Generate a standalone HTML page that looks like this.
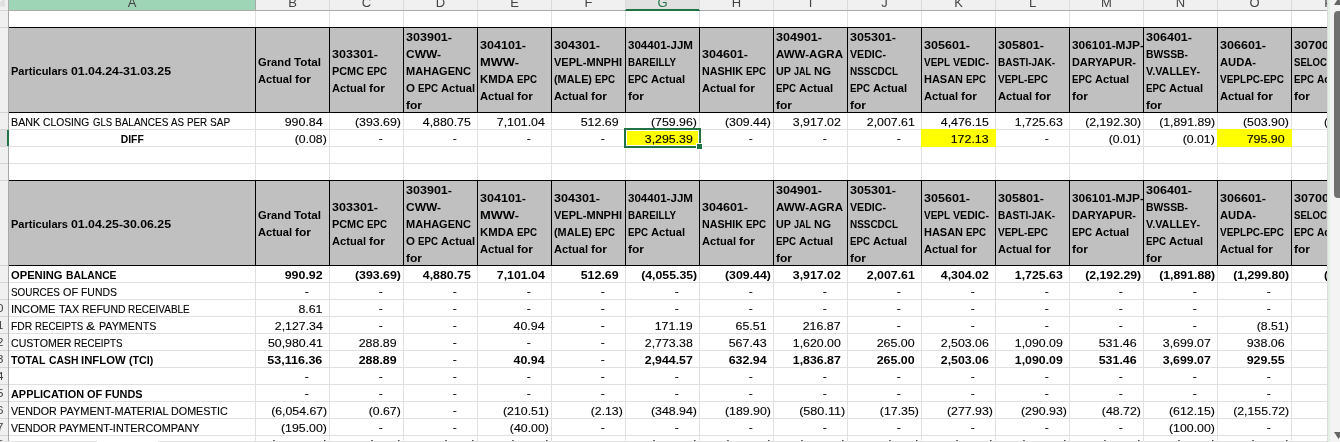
<!DOCTYPE html>
<html lang="en">
<head>
<meta charset="utf-8">
<title>Cash flow sheet</title>
<style>
html,body{margin:0;padding:0}
body{width:1340px;height:442px;overflow:hidden;background:#fff;position:relative;font-family:"Liberation Sans",sans-serif}
.sheet{position:absolute;left:0;top:0;width:1327px;height:442px;overflow:hidden;background:#fff}
.t,.ch,.rh{position:absolute;white-space:nowrap;line-height:17px;font-size:11px;color:#000;height:17px}
.t{-webkit-text-stroke:0.12px #000}
.b{font-weight:bold;-webkit-text-stroke:0}
.w{position:absolute;top:0;white-space:nowrap;transform-origin:left center}
.ch{font-size:13px;color:#444}
.ch.sel{color:#217346}
.rh{font-size:11.5px;color:#3a3a3a}
.g{position:absolute;background:#e0e0e0}
.k{position:absolute;background:#000}
.hd{position:absolute;background:#c0c0c0}
.y{position:absolute;background:#ff0}
</style>
</head>
<body>
<div class="sheet">
<div style="position:absolute;left:0;top:0;width:1327px;height:10px;background:#f0f0f0"></div>
<div style="position:absolute;left:0;top:10px;width:1327px;height:1px;background:#ababab"></div>
<div style="position:absolute;left:9px;top:0;width:246px;height:10px;background:#9fd5b7"></div>
<div style="position:absolute;left:9px;top:10px;width:246px;height:1px;background:#ababab"></div>
<div style="position:absolute;left:626px;top:0;width:73px;height:9px;background:#e1e1e1"></div>
<div style="position:absolute;left:625px;top:9px;width:75px;height:2px;background:#217346"></div>
<div style="position:absolute;left:255px;top:0;width:1px;height:10px;background:#a4a9a6"></div>
<div style="position:absolute;left:329px;top:0;width:1px;height:10px;background:#dadada"></div>
<div style="position:absolute;left:403px;top:0;width:1px;height:10px;background:#dadada"></div>
<div style="position:absolute;left:477px;top:0;width:1px;height:10px;background:#dadada"></div>
<div style="position:absolute;left:551px;top:0;width:1px;height:10px;background:#dadada"></div>
<div style="position:absolute;left:625px;top:0;width:1px;height:10px;background:#dadada"></div>
<div style="position:absolute;left:699px;top:0;width:1px;height:10px;background:#dadada"></div>
<div style="position:absolute;left:773px;top:0;width:1px;height:10px;background:#dadada"></div>
<div style="position:absolute;left:847px;top:0;width:1px;height:10px;background:#dadada"></div>
<div style="position:absolute;left:921px;top:0;width:1px;height:10px;background:#dadada"></div>
<div style="position:absolute;left:995px;top:0;width:1px;height:10px;background:#dadada"></div>
<div style="position:absolute;left:1069px;top:0;width:1px;height:10px;background:#dadada"></div>
<div style="position:absolute;left:1143px;top:0;width:1px;height:10px;background:#dadada"></div>
<div style="position:absolute;left:1217px;top:0;width:1px;height:10px;background:#dadada"></div>
<div style="position:absolute;left:1291px;top:0;width:1px;height:10px;background:#dadada"></div>
<div style="position:absolute;left:1365px;top:0;width:1px;height:10px;background:#dadada"></div>
<div style="position:absolute;left:0;top:0;width:8px;height:442px;background:#f0f0f0"></div>
<div style="position:absolute;left:0;top:0;width:5px;height:6.5px;background:#dfdfdf;clip-path:polygon(0 2.6px,2.7px 0,100% 0,100% 100%,0 100%)"></div>
<div style="position:absolute;left:0;top:130px;width:7px;height:16px;background:#dedede"></div>
<div style="position:absolute;left:8px;top:0;width:1px;height:442px;background:#a8a8a8"></div>
<div style="position:absolute;left:7px;top:130px;width:2px;height:16px;background:#217346"></div>
<div class="g" style="left:9px;top:129px;width:1318px;height:1px"></div>
<div class="g" style="left:9px;top:146px;width:1318px;height:1px"></div>
<div class="g" style="left:9px;top:163px;width:1318px;height:1px"></div>
<div class="g" style="left:9px;top:282px;width:1318px;height:1px"></div>
<div class="g" style="left:9px;top:299px;width:1318px;height:1px"></div>
<div class="g" style="left:9px;top:316px;width:1318px;height:1px"></div>
<div class="g" style="left:9px;top:333px;width:1318px;height:1px"></div>
<div class="g" style="left:9px;top:350px;width:1318px;height:1px"></div>
<div class="g" style="left:9px;top:367px;width:1318px;height:1px"></div>
<div class="g" style="left:9px;top:384px;width:1318px;height:1px"></div>
<div class="g" style="left:9px;top:401px;width:1318px;height:1px"></div>
<div class="g" style="left:9px;top:418px;width:1318px;height:1px"></div>
<div class="g" style="left:9px;top:435px;width:1318px;height:1px"></div>
<div style="position:absolute;left:0;top:10px;width:8px;height:1px;background:#d4d4d4"></div>
<div style="position:absolute;left:0;top:27px;width:8px;height:1px;background:#d4d4d4"></div>
<div style="position:absolute;left:0;top:112px;width:8px;height:1px;background:#d4d4d4"></div>
<div style="position:absolute;left:0;top:129px;width:8px;height:1px;background:#d4d4d4"></div>
<div style="position:absolute;left:0;top:146px;width:8px;height:1px;background:#d4d4d4"></div>
<div style="position:absolute;left:0;top:163px;width:8px;height:1px;background:#d4d4d4"></div>
<div style="position:absolute;left:0;top:180px;width:8px;height:1px;background:#d4d4d4"></div>
<div style="position:absolute;left:0;top:265px;width:8px;height:1px;background:#d4d4d4"></div>
<div style="position:absolute;left:0;top:282px;width:8px;height:1px;background:#d4d4d4"></div>
<div style="position:absolute;left:0;top:299px;width:8px;height:1px;background:#d4d4d4"></div>
<div style="position:absolute;left:0;top:316px;width:8px;height:1px;background:#d4d4d4"></div>
<div style="position:absolute;left:0;top:333px;width:8px;height:1px;background:#d4d4d4"></div>
<div style="position:absolute;left:0;top:350px;width:8px;height:1px;background:#d4d4d4"></div>
<div style="position:absolute;left:0;top:367px;width:8px;height:1px;background:#d4d4d4"></div>
<div style="position:absolute;left:0;top:384px;width:8px;height:1px;background:#d4d4d4"></div>
<div style="position:absolute;left:0;top:401px;width:8px;height:1px;background:#d4d4d4"></div>
<div style="position:absolute;left:0;top:418px;width:8px;height:1px;background:#d4d4d4"></div>
<div style="position:absolute;left:0;top:435px;width:8px;height:1px;background:#d4d4d4"></div>
<div class="g" style="left:255px;top:11px;width:1px;height:431px"></div>
<div class="g" style="left:329px;top:11px;width:1px;height:431px"></div>
<div class="g" style="left:403px;top:11px;width:1px;height:431px"></div>
<div class="g" style="left:477px;top:11px;width:1px;height:431px"></div>
<div class="g" style="left:551px;top:11px;width:1px;height:431px"></div>
<div class="g" style="left:625px;top:11px;width:1px;height:431px"></div>
<div class="g" style="left:699px;top:11px;width:1px;height:431px"></div>
<div class="g" style="left:773px;top:11px;width:1px;height:431px"></div>
<div class="g" style="left:847px;top:11px;width:1px;height:431px"></div>
<div class="g" style="left:921px;top:11px;width:1px;height:431px"></div>
<div class="g" style="left:995px;top:11px;width:1px;height:431px"></div>
<div class="g" style="left:1069px;top:11px;width:1px;height:431px"></div>
<div class="g" style="left:1143px;top:11px;width:1px;height:431px"></div>
<div class="g" style="left:1217px;top:11px;width:1px;height:431px"></div>
<div class="g" style="left:1291px;top:11px;width:1px;height:431px"></div>
<div class="hd" style="left:9px;top:27px;width:1318px;height:86px"></div>
<div class="k" style="left:9px;top:27px;width:1318px;height:1px"></div>
<div class="k" style="left:9px;top:112px;width:1318px;height:1px"></div>
<div class="k" style="left:255px;top:27px;width:1px;height:86px"></div>
<div class="k" style="left:329px;top:27px;width:1px;height:86px"></div>
<div class="k" style="left:403px;top:27px;width:1px;height:86px"></div>
<div class="k" style="left:477px;top:27px;width:1px;height:86px"></div>
<div class="k" style="left:551px;top:27px;width:1px;height:86px"></div>
<div class="k" style="left:625px;top:27px;width:1px;height:86px"></div>
<div class="k" style="left:699px;top:27px;width:1px;height:86px"></div>
<div class="k" style="left:773px;top:27px;width:1px;height:86px"></div>
<div class="k" style="left:847px;top:27px;width:1px;height:86px"></div>
<div class="k" style="left:921px;top:27px;width:1px;height:86px"></div>
<div class="k" style="left:995px;top:27px;width:1px;height:86px"></div>
<div class="k" style="left:1069px;top:27px;width:1px;height:86px"></div>
<div class="k" style="left:1143px;top:27px;width:1px;height:86px"></div>
<div class="k" style="left:1217px;top:27px;width:1px;height:86px"></div>
<div class="k" style="left:1291px;top:27px;width:1px;height:86px"></div>
<div class="hd" style="left:9px;top:180px;width:1318px;height:86px"></div>
<div class="k" style="left:9px;top:180px;width:1318px;height:1px"></div>
<div class="k" style="left:9px;top:265px;width:1318px;height:1px"></div>
<div class="k" style="left:255px;top:180px;width:1px;height:86px"></div>
<div class="k" style="left:329px;top:180px;width:1px;height:86px"></div>
<div class="k" style="left:403px;top:180px;width:1px;height:86px"></div>
<div class="k" style="left:477px;top:180px;width:1px;height:86px"></div>
<div class="k" style="left:551px;top:180px;width:1px;height:86px"></div>
<div class="k" style="left:625px;top:180px;width:1px;height:86px"></div>
<div class="k" style="left:699px;top:180px;width:1px;height:86px"></div>
<div class="k" style="left:773px;top:180px;width:1px;height:86px"></div>
<div class="k" style="left:847px;top:180px;width:1px;height:86px"></div>
<div class="k" style="left:921px;top:180px;width:1px;height:86px"></div>
<div class="k" style="left:995px;top:180px;width:1px;height:86px"></div>
<div class="k" style="left:1069px;top:180px;width:1px;height:86px"></div>
<div class="k" style="left:1143px;top:180px;width:1px;height:86px"></div>
<div class="k" style="left:1217px;top:180px;width:1px;height:86px"></div>
<div class="k" style="left:1291px;top:180px;width:1px;height:86px"></div>
<div class="y" style="left:627px;top:131px;width:71px;height:14px"></div>
<div class="y" style="left:921px;top:129px;width:75px;height:18px"></div>
<div class="y" style="left:1217px;top:129px;width:75px;height:18px"></div>
<div style="position:absolute;left:624px;top:128px;width:73px;height:16px;border:2px solid #217346"></div>
<div style="position:absolute;left:696px;top:143px;width:5px;height:5px;background:#217346;border:1px solid #fff"></div>
<span class="t b" style="left:11.00px;top:63.09px"><span class="w" style="left:0.00px;transform:scaleX(1.0022)">Particulars</span> <span class="w" style="left:60.00px;transform:scaleX(1.1197)">01.04.24-31.03.25</span></span>
<span class="t b" style="left:257.60px;top:54.09px"><span class="w" style="left:0.00px;transform:scaleX(1.0183)">Grand</span> <span class="w" style="left:36.00px;transform:scaleX(1.0601)">Total</span></span>
<span class="t b" style="left:257.60px;top:71.09px"><span class="w" style="left:0.00px;transform:scaleX(1.0112)">Actual</span> <span class="w" style="left:37.00px;transform:scaleX(1.0905)">for</span></span>
<span class="t b" style="left:331.60px;top:46.09px;transform:scaleX(1.1393);transform-origin:left center">303301-</span>
<span class="t b" style="left:331.60px;top:63.09px"><span class="w" style="left:0.00px;transform:scaleX(0.9879)">PCMC</span> <span class="w" style="left:35.00px;transform:scaleX(0.8840)">EPC</span></span>
<span class="t b" style="left:331.60px;top:80.09px"><span class="w" style="left:0.00px;transform:scaleX(1.0112)">Actual</span> <span class="w" style="left:37.00px;transform:scaleX(1.0905)">for</span></span>
<span class="t b" style="left:405.60px;top:29.09px;transform:scaleX(1.1393);transform-origin:left center">303901-</span>
<span class="t b" style="left:405.60px;top:46.09px;transform:scaleX(1.0884);transform-origin:left center">CWW-</span>
<span class="t b" style="left:405.60px;top:63.09px;transform:scaleX(1.0034);transform-origin:left center">MAHAGENC</span>
<span class="t b" style="left:405.60px;top:80.09px"><span class="w" style="left:0.00px;transform:scaleX(1.0511)">O</span> <span class="w" style="left:12.00px;transform:scaleX(0.8840)">EPC</span> <span class="w" style="left:35.00px;transform:scaleX(1.0112)">Actual</span></span>
<span class="t b" style="left:405.60px;top:97.09px;transform:scaleX(1.0905);transform-origin:left center">for</span>
<span class="t b" style="left:479.60px;top:37.09px;transform:scaleX(1.1393);transform-origin:left center">304101-</span>
<span class="t b" style="left:479.60px;top:54.09px;transform:scaleX(1.1685);transform-origin:left center">MWW-</span>
<span class="t b" style="left:479.60px;top:71.09px"><span class="w" style="left:0.00px;transform:scaleX(1.0303)">KMDA</span> <span class="w" style="left:37.00px;transform:scaleX(0.8840)">EPC</span></span>
<span class="t b" style="left:479.60px;top:88.09px"><span class="w" style="left:0.00px;transform:scaleX(1.0112)">Actual</span> <span class="w" style="left:37.00px;transform:scaleX(1.0905)">for</span></span>
<span class="t b" style="left:553.60px;top:37.09px;transform:scaleX(1.1393);transform-origin:left center">304301-</span>
<span class="t b" style="left:553.60px;top:54.09px;transform:scaleX(1.0023);transform-origin:left center">VEPL-MNPHI</span>
<span class="t b" style="left:553.60px;top:71.09px"><span class="w" style="left:0.00px;transform:scaleX(0.9870)">(MALE)</span> <span class="w" style="left:41.00px;transform:scaleX(0.8840)">EPC</span></span>
<span class="t b" style="left:553.60px;top:88.09px"><span class="w" style="left:0.00px;transform:scaleX(1.0112)">Actual</span> <span class="w" style="left:37.00px;transform:scaleX(1.0905)">for</span></span>
<span class="t b" style="left:627.60px;top:37.09px;transform:scaleX(1.0521);transform-origin:left center">304401-JJM</span>
<span class="t b" style="left:627.60px;top:54.09px;transform:scaleX(0.8889);transform-origin:left center">BAREILLY</span>
<span class="t b" style="left:627.60px;top:71.09px"><span class="w" style="left:0.00px;transform:scaleX(0.8840)">EPC</span> <span class="w" style="left:23.00px;transform:scaleX(1.0112)">Actual</span></span>
<span class="t b" style="left:627.60px;top:88.09px;transform:scaleX(1.0905);transform-origin:left center">for</span>
<span class="t b" style="left:701.60px;top:46.09px;transform:scaleX(1.1393);transform-origin:left center">304601-</span>
<span class="t b" style="left:701.60px;top:63.09px"><span class="w" style="left:0.00px;transform:scaleX(0.9722)">NASHIK</span> <span class="w" style="left:44.00px;transform:scaleX(0.8840)">EPC</span></span>
<span class="t b" style="left:701.60px;top:80.09px"><span class="w" style="left:0.00px;transform:scaleX(1.0112)">Actual</span> <span class="w" style="left:37.00px;transform:scaleX(1.0905)">for</span></span>
<span class="t b" style="left:775.60px;top:29.09px;transform:scaleX(1.1393);transform-origin:left center">304901-</span>
<span class="t b" style="left:775.60px;top:46.09px;transform:scaleX(1.0479);transform-origin:left center">AWW-AGRA</span>
<span class="t b" style="left:775.60px;top:63.09px"><span class="w" style="left:0.00px;transform:scaleX(0.9816)">UP</span> <span class="w" style="left:18.00px;transform:scaleX(0.8180)">JAL</span> <span class="w" style="left:38.00px;transform:scaleX(1.0303)">NG</span></span>
<span class="t b" style="left:775.60px;top:80.09px"><span class="w" style="left:0.00px;transform:scaleX(0.8840)">EPC</span> <span class="w" style="left:23.00px;transform:scaleX(1.0112)">Actual</span></span>
<span class="t b" style="left:775.60px;top:97.09px;transform:scaleX(1.0905);transform-origin:left center">for</span>
<span class="t b" style="left:849.60px;top:29.09px;transform:scaleX(1.1393);transform-origin:left center">305301-</span>
<span class="t b" style="left:849.60px;top:46.09px;transform:scaleX(0.9656);transform-origin:left center">VEDIC-</span>
<span class="t b" style="left:849.60px;top:63.09px;transform:scaleX(0.9027);transform-origin:left center">NSSCDCL</span>
<span class="t b" style="left:849.60px;top:80.09px"><span class="w" style="left:0.00px;transform:scaleX(0.8840)">EPC</span> <span class="w" style="left:23.00px;transform:scaleX(1.0112)">Actual</span></span>
<span class="t b" style="left:849.60px;top:97.09px;transform:scaleX(1.0905);transform-origin:left center">for</span>
<span class="t b" style="left:923.60px;top:37.09px;transform:scaleX(1.1393);transform-origin:left center">305601-</span>
<span class="t b" style="left:923.60px;top:54.09px"><span class="w" style="left:0.00px;transform:scaleX(0.9048)">VEPL</span> <span class="w" style="left:29.00px;transform:scaleX(0.9656)">VEDIC-</span></span>
<span class="t b" style="left:923.60px;top:71.09px"><span class="w" style="left:0.00px;transform:scaleX(0.9968)">HASAN</span> <span class="w" style="left:42.00px;transform:scaleX(0.8840)">EPC</span></span>
<span class="t b" style="left:923.60px;top:88.09px"><span class="w" style="left:0.00px;transform:scaleX(1.0112)">Actual</span> <span class="w" style="left:37.00px;transform:scaleX(1.0905)">for</span></span>
<span class="t b" style="left:997.60px;top:37.09px;transform:scaleX(1.1393);transform-origin:left center">305801-</span>
<span class="t b" style="left:997.60px;top:54.09px;transform:scaleX(0.9143);transform-origin:left center">BASTI-JAK-</span>
<span class="t b" style="left:997.60px;top:71.09px;transform:scaleX(0.9088);transform-origin:left center">VEPL-EPC</span>
<span class="t b" style="left:997.60px;top:88.09px"><span class="w" style="left:0.00px;transform:scaleX(1.0112)">Actual</span> <span class="w" style="left:37.00px;transform:scaleX(1.0905)">for</span></span>
<span class="t b" style="left:1071.60px;top:37.09px;transform:scaleX(1.0802);transform-origin:left center">306101-MJP-</span>
<span class="t b" style="left:1071.60px;top:54.09px;transform:scaleX(0.9908);transform-origin:left center">DARYAPUR-</span>
<span class="t b" style="left:1071.60px;top:71.09px"><span class="w" style="left:0.00px;transform:scaleX(0.8840)">EPC</span> <span class="w" style="left:23.00px;transform:scaleX(1.0112)">Actual</span></span>
<span class="t b" style="left:1071.60px;top:88.09px;transform:scaleX(1.0905);transform-origin:left center">for</span>
<span class="t b" style="left:1145.60px;top:29.09px;transform:scaleX(1.1393);transform-origin:left center">306401-</span>
<span class="t b" style="left:1145.60px;top:46.09px;transform:scaleX(0.9415);transform-origin:left center">BWSSB-</span>
<span class="t b" style="left:1145.60px;top:63.09px;transform:scaleX(0.9813);transform-origin:left center">V.VALLEY-</span>
<span class="t b" style="left:1145.60px;top:80.09px"><span class="w" style="left:0.00px;transform:scaleX(0.8840)">EPC</span> <span class="w" style="left:23.00px;transform:scaleX(1.0112)">Actual</span></span>
<span class="t b" style="left:1145.60px;top:97.09px;transform:scaleX(1.0905);transform-origin:left center">for</span>
<span class="t b" style="left:1219.60px;top:37.09px;transform:scaleX(1.1393);transform-origin:left center">306601-</span>
<span class="t b" style="left:1219.60px;top:54.09px;transform:scaleX(1.0154);transform-origin:left center">AUDA-</span>
<span class="t b" style="left:1219.60px;top:71.09px;transform:scaleX(0.9104);transform-origin:left center">VEPLPC-EPC</span>
<span class="t b" style="left:1219.60px;top:88.09px"><span class="w" style="left:0.00px;transform:scaleX(1.0112)">Actual</span> <span class="w" style="left:37.00px;transform:scaleX(1.0905)">for</span></span>
<span class="t b" style="left:1293.60px;top:37.09px;transform:scaleX(1.1440);transform-origin:left center">30700</span>
<span class="t b" style="left:1293.60px;top:54.09px;transform:scaleX(0.8706);transform-origin:left center">SELOC</span>
<span class="t b" style="left:1293.60px;top:71.09px"><span class="w" style="left:0.00px;transform:scaleX(0.8840)">EPC</span> <span class="w" style="left:23.00px;transform:scaleX(0.9244)">Ac</span></span>
<span class="t b" style="left:1293.60px;top:88.09px;transform:scaleX(1.0905);transform-origin:left center">for</span>
<span class="t b" style="left:11.00px;top:216.09px"><span class="w" style="left:0.00px;transform:scaleX(1.0022)">Particulars</span> <span class="w" style="left:60.00px;transform:scaleX(1.1197)">01.04.25-30.06.25</span></span>
<span class="t b" style="left:257.60px;top:207.09px"><span class="w" style="left:0.00px;transform:scaleX(1.0183)">Grand</span> <span class="w" style="left:36.00px;transform:scaleX(1.0601)">Total</span></span>
<span class="t b" style="left:257.60px;top:224.09px"><span class="w" style="left:0.00px;transform:scaleX(1.0112)">Actual</span> <span class="w" style="left:37.00px;transform:scaleX(1.0905)">for</span></span>
<span class="t b" style="left:331.60px;top:199.09px;transform:scaleX(1.1393);transform-origin:left center">303301-</span>
<span class="t b" style="left:331.60px;top:216.09px"><span class="w" style="left:0.00px;transform:scaleX(0.9879)">PCMC</span> <span class="w" style="left:35.00px;transform:scaleX(0.8840)">EPC</span></span>
<span class="t b" style="left:331.60px;top:233.09px"><span class="w" style="left:0.00px;transform:scaleX(1.0112)">Actual</span> <span class="w" style="left:37.00px;transform:scaleX(1.0905)">for</span></span>
<span class="t b" style="left:405.60px;top:182.09px;transform:scaleX(1.1393);transform-origin:left center">303901-</span>
<span class="t b" style="left:405.60px;top:199.09px;transform:scaleX(1.0884);transform-origin:left center">CWW-</span>
<span class="t b" style="left:405.60px;top:216.09px;transform:scaleX(1.0034);transform-origin:left center">MAHAGENC</span>
<span class="t b" style="left:405.60px;top:233.09px"><span class="w" style="left:0.00px;transform:scaleX(1.0511)">O</span> <span class="w" style="left:12.00px;transform:scaleX(0.8840)">EPC</span> <span class="w" style="left:35.00px;transform:scaleX(1.0112)">Actual</span></span>
<span class="t b" style="left:405.60px;top:250.09px;transform:scaleX(1.0905);transform-origin:left center">for</span>
<span class="t b" style="left:479.60px;top:190.09px;transform:scaleX(1.1393);transform-origin:left center">304101-</span>
<span class="t b" style="left:479.60px;top:207.09px;transform:scaleX(1.1685);transform-origin:left center">MWW-</span>
<span class="t b" style="left:479.60px;top:224.09px"><span class="w" style="left:0.00px;transform:scaleX(1.0303)">KMDA</span> <span class="w" style="left:37.00px;transform:scaleX(0.8840)">EPC</span></span>
<span class="t b" style="left:479.60px;top:241.09px"><span class="w" style="left:0.00px;transform:scaleX(1.0112)">Actual</span> <span class="w" style="left:37.00px;transform:scaleX(1.0905)">for</span></span>
<span class="t b" style="left:553.60px;top:190.09px;transform:scaleX(1.1393);transform-origin:left center">304301-</span>
<span class="t b" style="left:553.60px;top:207.09px;transform:scaleX(1.0023);transform-origin:left center">VEPL-MNPHI</span>
<span class="t b" style="left:553.60px;top:224.09px"><span class="w" style="left:0.00px;transform:scaleX(0.9870)">(MALE)</span> <span class="w" style="left:41.00px;transform:scaleX(0.8840)">EPC</span></span>
<span class="t b" style="left:553.60px;top:241.09px"><span class="w" style="left:0.00px;transform:scaleX(1.0112)">Actual</span> <span class="w" style="left:37.00px;transform:scaleX(1.0905)">for</span></span>
<span class="t b" style="left:627.60px;top:190.09px;transform:scaleX(1.0521);transform-origin:left center">304401-JJM</span>
<span class="t b" style="left:627.60px;top:207.09px;transform:scaleX(0.8889);transform-origin:left center">BAREILLY</span>
<span class="t b" style="left:627.60px;top:224.09px"><span class="w" style="left:0.00px;transform:scaleX(0.8840)">EPC</span> <span class="w" style="left:23.00px;transform:scaleX(1.0112)">Actual</span></span>
<span class="t b" style="left:627.60px;top:241.09px;transform:scaleX(1.0905);transform-origin:left center">for</span>
<span class="t b" style="left:701.60px;top:199.09px;transform:scaleX(1.1393);transform-origin:left center">304601-</span>
<span class="t b" style="left:701.60px;top:216.09px"><span class="w" style="left:0.00px;transform:scaleX(0.9722)">NASHIK</span> <span class="w" style="left:44.00px;transform:scaleX(0.8840)">EPC</span></span>
<span class="t b" style="left:701.60px;top:233.09px"><span class="w" style="left:0.00px;transform:scaleX(1.0112)">Actual</span> <span class="w" style="left:37.00px;transform:scaleX(1.0905)">for</span></span>
<span class="t b" style="left:775.60px;top:182.09px;transform:scaleX(1.1393);transform-origin:left center">304901-</span>
<span class="t b" style="left:775.60px;top:199.09px;transform:scaleX(1.0479);transform-origin:left center">AWW-AGRA</span>
<span class="t b" style="left:775.60px;top:216.09px"><span class="w" style="left:0.00px;transform:scaleX(0.9816)">UP</span> <span class="w" style="left:18.00px;transform:scaleX(0.8180)">JAL</span> <span class="w" style="left:38.00px;transform:scaleX(1.0303)">NG</span></span>
<span class="t b" style="left:775.60px;top:233.09px"><span class="w" style="left:0.00px;transform:scaleX(0.8840)">EPC</span> <span class="w" style="left:23.00px;transform:scaleX(1.0112)">Actual</span></span>
<span class="t b" style="left:775.60px;top:250.09px;transform:scaleX(1.0905);transform-origin:left center">for</span>
<span class="t b" style="left:849.60px;top:182.09px;transform:scaleX(1.1393);transform-origin:left center">305301-</span>
<span class="t b" style="left:849.60px;top:199.09px;transform:scaleX(0.9656);transform-origin:left center">VEDIC-</span>
<span class="t b" style="left:849.60px;top:216.09px;transform:scaleX(0.9027);transform-origin:left center">NSSCDCL</span>
<span class="t b" style="left:849.60px;top:233.09px"><span class="w" style="left:0.00px;transform:scaleX(0.8840)">EPC</span> <span class="w" style="left:23.00px;transform:scaleX(1.0112)">Actual</span></span>
<span class="t b" style="left:849.60px;top:250.09px;transform:scaleX(1.0905);transform-origin:left center">for</span>
<span class="t b" style="left:923.60px;top:190.09px;transform:scaleX(1.1393);transform-origin:left center">305601-</span>
<span class="t b" style="left:923.60px;top:207.09px"><span class="w" style="left:0.00px;transform:scaleX(0.9048)">VEPL</span> <span class="w" style="left:29.00px;transform:scaleX(0.9656)">VEDIC-</span></span>
<span class="t b" style="left:923.60px;top:224.09px"><span class="w" style="left:0.00px;transform:scaleX(0.9968)">HASAN</span> <span class="w" style="left:42.00px;transform:scaleX(0.8840)">EPC</span></span>
<span class="t b" style="left:923.60px;top:241.09px"><span class="w" style="left:0.00px;transform:scaleX(1.0112)">Actual</span> <span class="w" style="left:37.00px;transform:scaleX(1.0905)">for</span></span>
<span class="t b" style="left:997.60px;top:190.09px;transform:scaleX(1.1393);transform-origin:left center">305801-</span>
<span class="t b" style="left:997.60px;top:207.09px;transform:scaleX(0.9143);transform-origin:left center">BASTI-JAK-</span>
<span class="t b" style="left:997.60px;top:224.09px;transform:scaleX(0.9088);transform-origin:left center">VEPL-EPC</span>
<span class="t b" style="left:997.60px;top:241.09px"><span class="w" style="left:0.00px;transform:scaleX(1.0112)">Actual</span> <span class="w" style="left:37.00px;transform:scaleX(1.0905)">for</span></span>
<span class="t b" style="left:1071.60px;top:190.09px;transform:scaleX(1.0802);transform-origin:left center">306101-MJP-</span>
<span class="t b" style="left:1071.60px;top:207.09px;transform:scaleX(0.9908);transform-origin:left center">DARYAPUR-</span>
<span class="t b" style="left:1071.60px;top:224.09px"><span class="w" style="left:0.00px;transform:scaleX(0.8840)">EPC</span> <span class="w" style="left:23.00px;transform:scaleX(1.0112)">Actual</span></span>
<span class="t b" style="left:1071.60px;top:241.09px;transform:scaleX(1.0905);transform-origin:left center">for</span>
<span class="t b" style="left:1145.60px;top:182.09px;transform:scaleX(1.1393);transform-origin:left center">306401-</span>
<span class="t b" style="left:1145.60px;top:199.09px;transform:scaleX(0.9415);transform-origin:left center">BWSSB-</span>
<span class="t b" style="left:1145.60px;top:216.09px;transform:scaleX(0.9813);transform-origin:left center">V.VALLEY-</span>
<span class="t b" style="left:1145.60px;top:233.09px"><span class="w" style="left:0.00px;transform:scaleX(0.8840)">EPC</span> <span class="w" style="left:23.00px;transform:scaleX(1.0112)">Actual</span></span>
<span class="t b" style="left:1145.60px;top:250.09px;transform:scaleX(1.0905);transform-origin:left center">for</span>
<span class="t b" style="left:1219.60px;top:190.09px;transform:scaleX(1.1393);transform-origin:left center">306601-</span>
<span class="t b" style="left:1219.60px;top:207.09px;transform:scaleX(1.0154);transform-origin:left center">AUDA-</span>
<span class="t b" style="left:1219.60px;top:224.09px;transform:scaleX(0.9104);transform-origin:left center">VEPLPC-EPC</span>
<span class="t b" style="left:1219.60px;top:241.09px"><span class="w" style="left:0.00px;transform:scaleX(1.0112)">Actual</span> <span class="w" style="left:37.00px;transform:scaleX(1.0905)">for</span></span>
<span class="t b" style="left:1293.60px;top:190.09px;transform:scaleX(1.1440);transform-origin:left center">30700</span>
<span class="t b" style="left:1293.60px;top:207.09px;transform:scaleX(0.8706);transform-origin:left center">SELOC</span>
<span class="t b" style="left:1293.60px;top:224.09px"><span class="w" style="left:0.00px;transform:scaleX(0.8840)">EPC</span> <span class="w" style="left:23.00px;transform:scaleX(0.9244)">Ac</span></span>
<span class="t b" style="left:1293.60px;top:241.09px;transform:scaleX(1.0905);transform-origin:left center">for</span>
<span class="t" style="left:11.00px;top:113.69px"><span class="w" style="left:0.00px;transform:scaleX(0.9740)">BANK</span> <span class="w" style="left:32.21px;transform:scaleX(0.9350)">CLOSING</span> <span class="w" style="left:81.53px;transform:scaleX(0.8686)">GLS</span> <span class="w" style="left:103.67px;transform:scaleX(0.9087)">BALANCES</span> <span class="w" style="left:160.03px;transform:scaleX(0.8909)">AS</span> <span class="w" style="left:176.14px;transform:scaleX(0.8897)">PER</span> <span class="w" style="left:199.29px;transform:scaleX(0.9144)">SAP</span></span>
<span class="t" style="left:289.04px;top:113.69px;transform:scaleX(1.1291);transform-origin:right center">990.84</span>
<span class="t" style="left:360.22px;top:113.69px;transform:scaleX(1.1224);transform-origin:right center">(393.69)</span>
<span class="t" style="left:427.87px;top:113.69px;transform:scaleX(1.1208);transform-origin:right center">4,880.75</span>
<span class="t" style="left:501.87px;top:113.69px;transform:scaleX(1.1208);transform-origin:right center">7,101.04</span>
<span class="t" style="left:585.04px;top:113.69px;transform:scaleX(1.1291);transform-origin:right center">512.69</span>
<span class="t" style="left:656.22px;top:113.69px;transform:scaleX(1.1224);transform-origin:right center">(759.96)</span>
<span class="t" style="left:730.22px;top:113.69px;transform:scaleX(1.1224);transform-origin:right center">(309.44)</span>
<span class="t" style="left:797.87px;top:113.69px;transform:scaleX(1.1208);transform-origin:right center">3,917.02</span>
<span class="t" style="left:871.87px;top:113.69px;transform:scaleX(1.1208);transform-origin:right center">2,007.61</span>
<span class="t" style="left:945.87px;top:113.69px;transform:scaleX(1.1208);transform-origin:right center">4,476.15</span>
<span class="t" style="left:1019.87px;top:113.69px;transform:scaleX(1.1208);transform-origin:right center">1,725.63</span>
<span class="t" style="left:1091.04px;top:113.69px;transform:scaleX(1.1165);transform-origin:right center">(2,192.30)</span>
<span class="t" style="left:1165.04px;top:113.69px;transform:scaleX(1.1165);transform-origin:right center">(1,891.89)</span>
<span class="t" style="left:1248.22px;top:113.69px;transform:scaleX(1.1224);transform-origin:right center">(503.90)</span>
<span class="t" style="left:1323.60px;top:113.69px;transform:scaleX(1.0894);transform-origin:left center">(</span>
<span class="t b" style="left:120.07px;top:130.69px;transform:scaleX(0.9406);transform-origin:center center">DIFF</span>
<span class="t" style="left:298.45px;top:130.69px;transform:scaleX(1.1130);transform-origin:right center">(0.08)</span>
<span class="t" style="left:379.43px;top:129.69px;transform:scaleX(1.0894);transform-origin:right center">-</span>
<span class="t" style="left:453.43px;top:129.69px;transform:scaleX(1.0894);transform-origin:right center">-</span>
<span class="t" style="left:527.43px;top:129.69px;transform:scaleX(1.0894);transform-origin:right center">-</span>
<span class="t" style="left:601.43px;top:129.69px;transform:scaleX(1.0894);transform-origin:right center">-</span>
<span class="t" style="left:649.87px;top:130.69px;transform:scaleX(1.1208);transform-origin:right center">3,295.39</span>
<span class="t" style="left:749.43px;top:129.69px;transform:scaleX(1.0894);transform-origin:right center">-</span>
<span class="t" style="left:823.43px;top:129.69px;transform:scaleX(1.0894);transform-origin:right center">-</span>
<span class="t" style="left:897.43px;top:129.69px;transform:scaleX(1.0894);transform-origin:right center">-</span>
<span class="t" style="left:955.04px;top:130.69px;transform:scaleX(1.1291);transform-origin:right center">172.13</span>
<span class="t" style="left:1045.43px;top:129.69px;transform:scaleX(1.0894);transform-origin:right center">-</span>
<span class="t" style="left:1112.45px;top:130.69px;transform:scaleX(1.1130);transform-origin:right center">(0.01)</span>
<span class="t" style="left:1186.45px;top:130.69px;transform:scaleX(1.1130);transform-origin:right center">(0.01)</span>
<span class="t" style="left:1251.04px;top:130.69px;transform:scaleX(1.1291);transform-origin:right center">795.90</span>
<span class="t b" style="left:11.00px;top:266.69px"><span class="w" style="left:0.00px;transform:scaleX(1.0150)">OPENING</span> <span class="w" style="left:54.52px;transform:scaleX(0.9387)">BALANCE</span></span>
<span class="t b" style="left:289.04px;top:266.69px;transform:scaleX(1.1291);transform-origin:right center">990.92</span>
<span class="t b" style="left:360.22px;top:266.69px;transform:scaleX(1.1224);transform-origin:right center">(393.69)</span>
<span class="t b" style="left:427.87px;top:266.69px;transform:scaleX(1.1208);transform-origin:right center">4,880.75</span>
<span class="t b" style="left:501.87px;top:266.69px;transform:scaleX(1.1208);transform-origin:right center">7,101.04</span>
<span class="t b" style="left:585.04px;top:266.69px;transform:scaleX(1.1291);transform-origin:right center">512.69</span>
<span class="t b" style="left:647.04px;top:266.69px;transform:scaleX(1.1165);transform-origin:right center">(4,055.35)</span>
<span class="t b" style="left:730.22px;top:266.69px;transform:scaleX(1.1224);transform-origin:right center">(309.44)</span>
<span class="t b" style="left:797.87px;top:266.69px;transform:scaleX(1.1208);transform-origin:right center">3,917.02</span>
<span class="t b" style="left:871.87px;top:266.69px;transform:scaleX(1.1208);transform-origin:right center">2,007.61</span>
<span class="t b" style="left:945.87px;top:266.69px;transform:scaleX(1.1208);transform-origin:right center">4,304.02</span>
<span class="t b" style="left:1019.87px;top:266.69px;transform:scaleX(1.1208);transform-origin:right center">1,725.63</span>
<span class="t b" style="left:1091.04px;top:266.69px;transform:scaleX(1.1165);transform-origin:right center">(2,192.29)</span>
<span class="t b" style="left:1165.04px;top:266.69px;transform:scaleX(1.1165);transform-origin:right center">(1,891.88)</span>
<span class="t b" style="left:1239.04px;top:266.69px;transform:scaleX(1.1165);transform-origin:right center">(1,299.80)</span>
<span class="t b" style="left:1323.60px;top:266.69px;transform:scaleX(1.0894);transform-origin:left center">(</span>
<span class="t" style="left:11.00px;top:283.69px"><span class="w" style="left:0.00px;transform:scaleX(0.8988)">SOURCES</span> <span class="w" style="left:51.90px;transform:scaleX(0.9796)">OF</span> <span class="w" style="left:69.86px;transform:scaleX(0.9482)">FUNDS</span></span>
<span class="t" style="left:305.43px;top:282.69px;transform:scaleX(1.0894);transform-origin:right center">-</span>
<span class="t" style="left:379.43px;top:282.69px;transform:scaleX(1.0894);transform-origin:right center">-</span>
<span class="t" style="left:453.43px;top:282.69px;transform:scaleX(1.0894);transform-origin:right center">-</span>
<span class="t" style="left:527.43px;top:282.69px;transform:scaleX(1.0894);transform-origin:right center">-</span>
<span class="t" style="left:601.43px;top:282.69px;transform:scaleX(1.0894);transform-origin:right center">-</span>
<span class="t" style="left:675.43px;top:282.69px;transform:scaleX(1.0894);transform-origin:right center">-</span>
<span class="t" style="left:749.43px;top:282.69px;transform:scaleX(1.0894);transform-origin:right center">-</span>
<span class="t" style="left:823.43px;top:282.69px;transform:scaleX(1.0894);transform-origin:right center">-</span>
<span class="t" style="left:897.43px;top:282.69px;transform:scaleX(1.0894);transform-origin:right center">-</span>
<span class="t" style="left:971.43px;top:282.69px;transform:scaleX(1.0894);transform-origin:right center">-</span>
<span class="t" style="left:1045.43px;top:282.69px;transform:scaleX(1.0894);transform-origin:right center">-</span>
<span class="t" style="left:1119.43px;top:282.69px;transform:scaleX(1.0894);transform-origin:right center">-</span>
<span class="t" style="left:1193.43px;top:282.69px;transform:scaleX(1.0894);transform-origin:right center">-</span>
<span class="t" style="left:1267.43px;top:282.69px;transform:scaleX(1.0894);transform-origin:right center">-</span>
<span class="t" style="left:11.00px;top:300.69px"><span class="w" style="left:0.00px;transform:scaleX(1.0113)">INCOME</span> <span class="w" style="left:47.53px;transform:scaleX(0.9829)">TAX</span> <span class="w" style="left:70.79px;transform:scaleX(0.9486)">REFUND</span> <span class="w" style="left:117.31px;transform:scaleX(0.9035)">RECEIVABLE</span></span>
<span class="t" style="left:301.28px;top:300.69px;transform:scaleX(1.1204);transform-origin:right center">8.61</span>
<span class="t" style="left:379.43px;top:299.69px;transform:scaleX(1.0894);transform-origin:right center">-</span>
<span class="t" style="left:453.43px;top:299.69px;transform:scaleX(1.0894);transform-origin:right center">-</span>
<span class="t" style="left:527.43px;top:299.69px;transform:scaleX(1.0894);transform-origin:right center">-</span>
<span class="t" style="left:601.43px;top:299.69px;transform:scaleX(1.0894);transform-origin:right center">-</span>
<span class="t" style="left:675.43px;top:299.69px;transform:scaleX(1.0894);transform-origin:right center">-</span>
<span class="t" style="left:749.43px;top:299.69px;transform:scaleX(1.0894);transform-origin:right center">-</span>
<span class="t" style="left:823.43px;top:299.69px;transform:scaleX(1.0894);transform-origin:right center">-</span>
<span class="t" style="left:897.43px;top:299.69px;transform:scaleX(1.0894);transform-origin:right center">-</span>
<span class="t" style="left:971.43px;top:299.69px;transform:scaleX(1.0894);transform-origin:right center">-</span>
<span class="t" style="left:1045.43px;top:299.69px;transform:scaleX(1.0894);transform-origin:right center">-</span>
<span class="t" style="left:1119.43px;top:299.69px;transform:scaleX(1.0894);transform-origin:right center">-</span>
<span class="t" style="left:1193.43px;top:299.69px;transform:scaleX(1.0894);transform-origin:right center">-</span>
<span class="t" style="left:1267.43px;top:299.69px;transform:scaleX(1.0894);transform-origin:right center">-</span>
<span class="t" style="left:11.00px;top:317.69px"><span class="w" style="left:0.00px;transform:scaleX(0.9347)">FDR</span> <span class="w" style="left:24.15px;transform:scaleX(0.8780)">RECEIPTS</span> <span class="w" style="left:75.47px;transform:scaleX(1.2333)">&amp;</span> <span class="w" style="left:87.55px;transform:scaleX(0.9740)">PAYMENTS</span></span>
<span class="t" style="left:279.87px;top:317.69px;transform:scaleX(1.1208);transform-origin:right center">2,127.34</span>
<span class="t" style="left:379.43px;top:316.69px;transform:scaleX(1.0894);transform-origin:right center">-</span>
<span class="t" style="left:453.43px;top:316.69px;transform:scaleX(1.0894);transform-origin:right center">-</span>
<span class="t" style="left:517.17px;top:317.69px;transform:scaleX(1.1260);transform-origin:right center">40.94</span>
<span class="t" style="left:601.43px;top:316.69px;transform:scaleX(1.0894);transform-origin:right center">-</span>
<span class="t" style="left:659.04px;top:317.69px;transform:scaleX(1.1291);transform-origin:right center">171.19</span>
<span class="t" style="left:739.17px;top:317.69px;transform:scaleX(1.1260);transform-origin:right center">65.51</span>
<span class="t" style="left:807.04px;top:317.69px;transform:scaleX(1.1291);transform-origin:right center">216.87</span>
<span class="t" style="left:897.43px;top:316.69px;transform:scaleX(1.0894);transform-origin:right center">-</span>
<span class="t" style="left:971.43px;top:316.69px;transform:scaleX(1.0894);transform-origin:right center">-</span>
<span class="t" style="left:1045.43px;top:316.69px;transform:scaleX(1.0894);transform-origin:right center">-</span>
<span class="t" style="left:1119.43px;top:316.69px;transform:scaleX(1.0894);transform-origin:right center">-</span>
<span class="t" style="left:1193.43px;top:316.69px;transform:scaleX(1.0894);transform-origin:right center">-</span>
<span class="t" style="left:1260.45px;top:317.69px;transform:scaleX(1.1130);transform-origin:right center">(8.51)</span>
<span class="t" style="left:11.00px;top:334.69px"><span class="w" style="left:0.00px;transform:scaleX(0.9631)">CUSTOMER</span> <span class="w" style="left:63.45px;transform:scaleX(0.8788)">RECEIPTS</span></span>
<span class="t" style="left:273.76px;top:334.69px;transform:scaleX(1.1239);transform-origin:right center">50,980.41</span>
<span class="t" style="left:363.04px;top:334.69px;transform:scaleX(1.1291);transform-origin:right center">288.89</span>
<span class="t" style="left:453.43px;top:333.69px;transform:scaleX(1.0894);transform-origin:right center">-</span>
<span class="t" style="left:527.43px;top:333.69px;transform:scaleX(1.0894);transform-origin:right center">-</span>
<span class="t" style="left:601.43px;top:333.69px;transform:scaleX(1.0894);transform-origin:right center">-</span>
<span class="t" style="left:649.87px;top:334.69px;transform:scaleX(1.1208);transform-origin:right center">2,773.38</span>
<span class="t" style="left:733.04px;top:334.69px;transform:scaleX(1.1291);transform-origin:right center">567.43</span>
<span class="t" style="left:797.87px;top:334.69px;transform:scaleX(1.1208);transform-origin:right center">1,620.00</span>
<span class="t" style="left:881.04px;top:334.69px;transform:scaleX(1.1291);transform-origin:right center">265.00</span>
<span class="t" style="left:945.87px;top:334.69px;transform:scaleX(1.1208);transform-origin:right center">2,503.06</span>
<span class="t" style="left:1019.87px;top:334.69px;transform:scaleX(1.1208);transform-origin:right center">1,090.09</span>
<span class="t" style="left:1103.04px;top:334.69px;transform:scaleX(1.1291);transform-origin:right center">531.46</span>
<span class="t" style="left:1167.87px;top:334.69px;transform:scaleX(1.1208);transform-origin:right center">3,699.07</span>
<span class="t" style="left:1251.04px;top:334.69px;transform:scaleX(1.1291);transform-origin:right center">938.06</span>
<span class="t b" style="left:11.00px;top:351.69px"><span class="w" style="left:0.00px;transform:scaleX(0.9673)">TOTAL</span> <span class="w" style="left:37.53px;transform:scaleX(0.9437)">CASH</span> <span class="w" style="left:69.99px;transform:scaleX(1.0286)">INFLOW</span> <span class="w" style="left:117.67px;transform:scaleX(0.9720)">(TCI)</span></span>
<span class="t b" style="left:274.36px;top:351.69px;transform:scaleX(1.1377);transform-origin:right center">53,116.36</span>
<span class="t b" style="left:363.04px;top:351.69px;transform:scaleX(1.1291);transform-origin:right center">288.89</span>
<span class="t" style="left:453.43px;top:350.69px;transform:scaleX(1.0894);transform-origin:right center">-</span>
<span class="t b" style="left:517.17px;top:351.69px;transform:scaleX(1.1260);transform-origin:right center">40.94</span>
<span class="t" style="left:601.43px;top:350.69px;transform:scaleX(1.0894);transform-origin:right center">-</span>
<span class="t b" style="left:649.87px;top:351.69px;transform:scaleX(1.1208);transform-origin:right center">2,944.57</span>
<span class="t b" style="left:733.04px;top:351.69px;transform:scaleX(1.1291);transform-origin:right center">632.94</span>
<span class="t b" style="left:797.87px;top:351.69px;transform:scaleX(1.1208);transform-origin:right center">1,836.87</span>
<span class="t b" style="left:881.04px;top:351.69px;transform:scaleX(1.1291);transform-origin:right center">265.00</span>
<span class="t b" style="left:945.87px;top:351.69px;transform:scaleX(1.1208);transform-origin:right center">2,503.06</span>
<span class="t b" style="left:1019.87px;top:351.69px;transform:scaleX(1.1208);transform-origin:right center">1,090.09</span>
<span class="t b" style="left:1103.04px;top:351.69px;transform:scaleX(1.1291);transform-origin:right center">531.46</span>
<span class="t b" style="left:1167.87px;top:351.69px;transform:scaleX(1.1208);transform-origin:right center">3,699.07</span>
<span class="t b" style="left:1251.04px;top:351.69px;transform:scaleX(1.1291);transform-origin:right center">929.55</span>
<span class="t" style="left:305.43px;top:367.69px;transform:scaleX(1.0894);transform-origin:right center">-</span>
<span class="t" style="left:379.43px;top:367.69px;transform:scaleX(1.0894);transform-origin:right center">-</span>
<span class="t" style="left:453.43px;top:367.69px;transform:scaleX(1.0894);transform-origin:right center">-</span>
<span class="t" style="left:527.43px;top:367.69px;transform:scaleX(1.0894);transform-origin:right center">-</span>
<span class="t" style="left:601.43px;top:367.69px;transform:scaleX(1.0894);transform-origin:right center">-</span>
<span class="t" style="left:675.43px;top:367.69px;transform:scaleX(1.0894);transform-origin:right center">-</span>
<span class="t" style="left:749.43px;top:367.69px;transform:scaleX(1.0894);transform-origin:right center">-</span>
<span class="t" style="left:823.43px;top:367.69px;transform:scaleX(1.0894);transform-origin:right center">-</span>
<span class="t" style="left:897.43px;top:367.69px;transform:scaleX(1.0894);transform-origin:right center">-</span>
<span class="t" style="left:971.43px;top:367.69px;transform:scaleX(1.0894);transform-origin:right center">-</span>
<span class="t" style="left:1045.43px;top:367.69px;transform:scaleX(1.0894);transform-origin:right center">-</span>
<span class="t" style="left:1119.43px;top:367.69px;transform:scaleX(1.0894);transform-origin:right center">-</span>
<span class="t" style="left:1193.43px;top:367.69px;transform:scaleX(1.0894);transform-origin:right center">-</span>
<span class="t" style="left:1267.43px;top:367.69px;transform:scaleX(1.0894);transform-origin:right center">-</span>
<span class="t b" style="left:11.00px;top:385.69px"><span class="w" style="left:0.00px;transform:scaleX(0.9907)">APPLICATION</span> <span class="w" style="left:76.11px;transform:scaleX(0.9961)">OF</span> <span class="w" style="left:94.38px;transform:scaleX(0.9909)">FUNDS</span></span>
<span class="t" style="left:305.43px;top:384.69px;transform:scaleX(1.0894);transform-origin:right center">-</span>
<span class="t" style="left:379.43px;top:384.69px;transform:scaleX(1.0894);transform-origin:right center">-</span>
<span class="t" style="left:453.43px;top:384.69px;transform:scaleX(1.0894);transform-origin:right center">-</span>
<span class="t" style="left:527.43px;top:384.69px;transform:scaleX(1.0894);transform-origin:right center">-</span>
<span class="t" style="left:601.43px;top:384.69px;transform:scaleX(1.0894);transform-origin:right center">-</span>
<span class="t" style="left:675.43px;top:384.69px;transform:scaleX(1.0894);transform-origin:right center">-</span>
<span class="t" style="left:749.43px;top:384.69px;transform:scaleX(1.0894);transform-origin:right center">-</span>
<span class="t" style="left:823.43px;top:384.69px;transform:scaleX(1.0894);transform-origin:right center">-</span>
<span class="t" style="left:897.43px;top:384.69px;transform:scaleX(1.0894);transform-origin:right center">-</span>
<span class="t" style="left:971.43px;top:384.69px;transform:scaleX(1.0894);transform-origin:right center">-</span>
<span class="t" style="left:1045.43px;top:384.69px;transform:scaleX(1.0894);transform-origin:right center">-</span>
<span class="t" style="left:1119.43px;top:384.69px;transform:scaleX(1.0894);transform-origin:right center">-</span>
<span class="t" style="left:1193.43px;top:384.69px;transform:scaleX(1.0894);transform-origin:right center">-</span>
<span class="t" style="left:1267.43px;top:384.69px;transform:scaleX(1.0894);transform-origin:right center">-</span>
<span class="t" style="left:11.00px;top:402.69px"><span class="w" style="left:0.00px;transform:scaleX(0.9705)">VENDOR</span> <span class="w" style="left:48.72px;transform:scaleX(0.9982)">PAYMENT-MATERIAL</span> <span class="w" style="left:160.37px;transform:scaleX(0.9789)">DOMESTIC</span></span>
<span class="t" style="left:277.04px;top:402.69px;transform:scaleX(1.1165);transform-origin:right center">(6,054.67)</span>
<span class="t" style="left:372.45px;top:402.69px;transform:scaleX(1.1130);transform-origin:right center">(0.67)</span>
<span class="t" style="left:453.43px;top:401.69px;transform:scaleX(1.0894);transform-origin:right center">-</span>
<span class="t" style="left:508.22px;top:402.69px;transform:scaleX(1.1224);transform-origin:right center">(210.51)</span>
<span class="t" style="left:594.45px;top:402.69px;transform:scaleX(1.1130);transform-origin:right center">(2.13)</span>
<span class="t" style="left:656.22px;top:402.69px;transform:scaleX(1.1224);transform-origin:right center">(348.94)</span>
<span class="t" style="left:730.22px;top:402.69px;transform:scaleX(1.1224);transform-origin:right center">(189.90)</span>
<span class="t" style="left:805.04px;top:402.69px;transform:scaleX(1.1455);transform-origin:right center">(580.11)</span>
<span class="t" style="left:884.34px;top:402.69px;transform:scaleX(1.1188);transform-origin:right center">(17.35)</span>
<span class="t" style="left:952.22px;top:402.69px;transform:scaleX(1.1224);transform-origin:right center">(277.93)</span>
<span class="t" style="left:1026.22px;top:402.69px;transform:scaleX(1.1224);transform-origin:right center">(290.93)</span>
<span class="t" style="left:1106.34px;top:402.69px;transform:scaleX(1.1188);transform-origin:right center">(48.72)</span>
<span class="t" style="left:1174.22px;top:402.69px;transform:scaleX(1.1224);transform-origin:right center">(612.15)</span>
<span class="t" style="left:1239.04px;top:402.69px;transform:scaleX(1.1165);transform-origin:right center">(2,155.72)</span>
<span class="t" style="left:11.00px;top:419.69px"><span class="w" style="left:0.00px;transform:scaleX(0.9597)">VENDOR</span> <span class="w" style="left:48.18px;transform:scaleX(0.9867)">PAYMENT-INTERCOMPANY</span></span>
<span class="t" style="left:286.22px;top:419.69px;transform:scaleX(1.1224);transform-origin:right center">(195.00)</span>
<span class="t" style="left:379.43px;top:418.69px;transform:scaleX(1.0894);transform-origin:right center">-</span>
<span class="t" style="left:453.43px;top:418.69px;transform:scaleX(1.0894);transform-origin:right center">-</span>
<span class="t" style="left:514.34px;top:419.69px;transform:scaleX(1.1188);transform-origin:right center">(40.00)</span>
<span class="t" style="left:601.43px;top:418.69px;transform:scaleX(1.0894);transform-origin:right center">-</span>
<span class="t" style="left:675.43px;top:418.69px;transform:scaleX(1.0894);transform-origin:right center">-</span>
<span class="t" style="left:749.43px;top:418.69px;transform:scaleX(1.0894);transform-origin:right center">-</span>
<span class="t" style="left:823.43px;top:418.69px;transform:scaleX(1.0894);transform-origin:right center">-</span>
<span class="t" style="left:897.43px;top:418.69px;transform:scaleX(1.0894);transform-origin:right center">-</span>
<span class="t" style="left:971.43px;top:418.69px;transform:scaleX(1.0894);transform-origin:right center">-</span>
<span class="t" style="left:1045.43px;top:418.69px;transform:scaleX(1.0894);transform-origin:right center">-</span>
<span class="t" style="left:1119.43px;top:418.69px;transform:scaleX(1.0894);transform-origin:right center">-</span>
<span class="t" style="left:1174.22px;top:419.69px;transform:scaleX(1.1224);transform-origin:right center">(100.00)</span>
<span class="t" style="left:1267.43px;top:418.69px;transform:scaleX(1.0894);transform-origin:right center">-</span>
<span class="t" style="left:271.20px;top:435.89px;transform:scaleX(1.0894);transform-origin:left center">(</span>
<span class="t" style="left:323.53px;top:435.89px;transform:scaleX(1.0894);transform-origin:right center">)</span>
<span class="t" style="left:369.20px;top:435.89px;transform:scaleX(1.0894);transform-origin:left center">(</span>
<span class="t" style="left:397.53px;top:435.89px;transform:scaleX(1.0894);transform-origin:right center">)</span>
<span class="t" style="left:443.20px;top:435.89px;transform:scaleX(1.0894);transform-origin:left center">(</span>
<span class="t" style="left:471.53px;top:435.89px;transform:scaleX(1.0894);transform-origin:right center">)</span>
<span class="t" style="left:510.20px;top:435.89px;transform:scaleX(1.0894);transform-origin:left center">(</span>
<span class="t" style="left:545.53px;top:435.89px;transform:scaleX(1.0894);transform-origin:right center">)</span>
<span class="t" style="left:651.20px;top:435.89px;transform:scaleX(1.0894);transform-origin:left center">(</span>
<span class="t" style="left:693.53px;top:435.89px;transform:scaleX(1.0894);transform-origin:right center">)</span>
<span class="t" style="left:725.20px;top:435.89px;transform:scaleX(1.0894);transform-origin:left center">(</span>
<span class="t" style="left:767.53px;top:435.89px;transform:scaleX(1.0894);transform-origin:right center">)</span>
<span class="t" style="left:799.20px;top:435.89px;transform:scaleX(1.0894);transform-origin:left center">(</span>
<span class="t" style="left:841.53px;top:435.89px;transform:scaleX(1.0894);transform-origin:right center">)</span>
<span class="t" style="left:887.20px;top:435.89px;transform:scaleX(1.0894);transform-origin:left center">(</span>
<span class="t" style="left:915.53px;top:435.89px;transform:scaleX(1.0894);transform-origin:right center">)</span>
<span class="t" style="left:954.20px;top:435.89px;transform:scaleX(1.0894);transform-origin:left center">(</span>
<span class="t" style="left:989.53px;top:435.89px;transform:scaleX(1.0894);transform-origin:right center">)</span>
<span class="t" style="left:1021.20px;top:435.89px;transform:scaleX(1.0894);transform-origin:left center">(</span>
<span class="t" style="left:1063.53px;top:435.89px;transform:scaleX(1.0894);transform-origin:right center">)</span>
<span class="t" style="left:1102.20px;top:435.89px;transform:scaleX(1.0894);transform-origin:left center">(</span>
<span class="t" style="left:1137.53px;top:435.89px;transform:scaleX(1.0894);transform-origin:right center">)</span>
<span class="t" style="left:1176.20px;top:435.89px;transform:scaleX(1.0894);transform-origin:left center">(</span>
<span class="t" style="left:1211.53px;top:435.89px;transform:scaleX(1.0894);transform-origin:right center">)</span>
<span class="t" style="left:1250.20px;top:435.89px;transform:scaleX(1.0894);transform-origin:left center">(</span>
<span class="t" style="left:1285.53px;top:435.89px;transform:scaleX(1.0894);transform-origin:right center">)</span>
<span class="ch" style="left:127.66px;top:-6.01px">A</span>
<span class="ch" style="left:288.16px;top:-6.01px">B</span>
<span class="ch" style="left:361.80px;top:-6.01px">C</span>
<span class="ch" style="left:435.80px;top:-6.01px">D</span>
<span class="ch" style="left:510.16px;top:-6.01px">E</span>
<span class="ch" style="left:584.52px;top:-6.01px">F</span>
<span class="ch sel" style="left:657.44px;top:-6.01px">G</span>
<span class="ch" style="left:731.80px;top:-6.01px">H</span>
<span class="ch" style="left:808.69px;top:-6.01px">I</span>
<span class="ch" style="left:881.25px;top:-6.01px">J</span>
<span class="ch" style="left:954.16px;top:-6.01px">K</span>
<span class="ch" style="left:1028.88px;top:-6.01px">L</span>
<span class="ch" style="left:1101.08px;top:-6.01px">M</span>
<span class="ch" style="left:1175.80px;top:-6.01px">N</span>
<span class="ch" style="left:1249.44px;top:-6.01px">O</span>
<span class="ch" style="left:1324.16px;top:-6.01px">P</span>
<span class="rh" style="left:-9.50px;top:300.11px">10</span>
<span class="rh" style="left:-8.65px;top:317.11px">11</span>
<span class="rh" style="left:-9.50px;top:334.11px">12</span>
<span class="rh" style="left:-9.50px;top:351.11px">13</span>
<span class="rh" style="left:-9.50px;top:368.11px">14</span>
<span class="rh" style="left:-9.50px;top:385.11px">15</span>
<span class="rh" style="left:-9.50px;top:402.11px">16</span>
<span class="rh" style="left:-9.50px;top:419.11px">17</span>
<span class="rh" style="left:-9.50px;top:436.11px">18</span>
<div style="position:absolute;left:0;top:441px;width:97px;height:1px;background:#e2e2e2"></div>
<div style="position:absolute;left:158px;top:441px;width:1169px;height:1px;background:#e2e2e2"></div>
</div>
<div style="position:absolute;left:1327px;top:0;width:13px;height:442px;background:#f3f3f3"></div>
<div style="position:absolute;left:1327px;top:0;width:1px;height:442px;background:#dcdcdc"></div>
<div style="position:absolute;left:1328px;top:0;width:2px;height:442px;background:#e3efe5"></div>
<div style="position:absolute;left:1334px;top:11px;width:12px;height:187px;background:#707070;border-radius:4px"></div>
<svg style="position:absolute;left:1327px;top:0" width="13" height="442" viewBox="1327 0 13 442"><polygon points="1334,5 1343,5 1338.5,-2" fill="#666"/><polygon points="1334,432 1343,432 1338.5,439" fill="#666"/></svg>
</body>
</html>
